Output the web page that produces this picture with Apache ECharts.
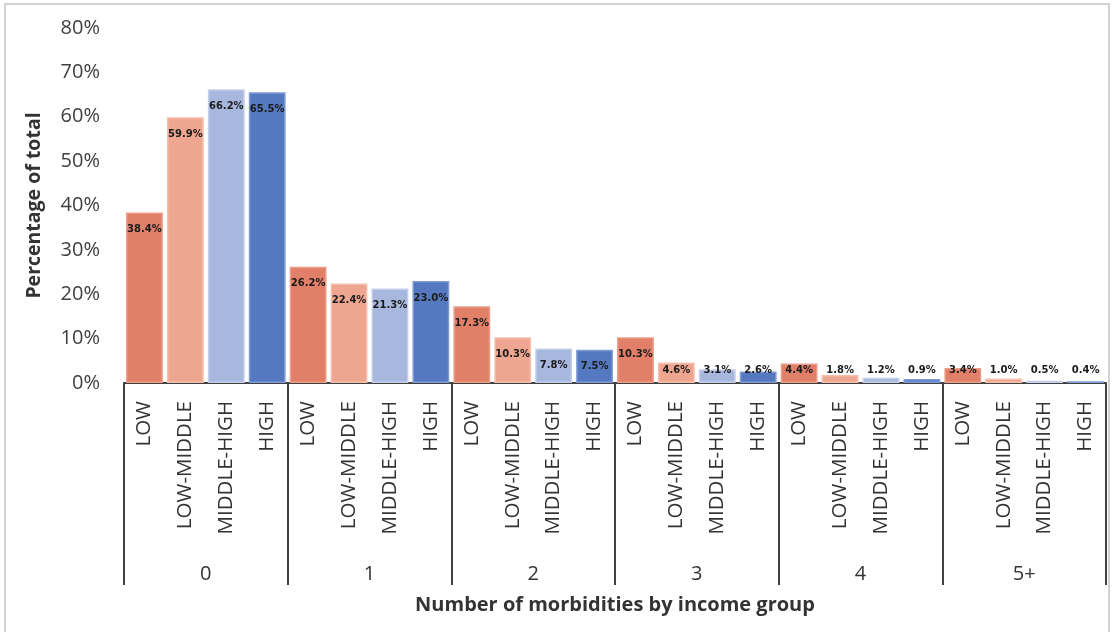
<!DOCTYPE html>
<html>
<head>
<meta charset="utf-8">
<script src="https://cdn.jsdelivr.net/npm/echarts@6/dist/echarts.min.js"></script>
<style>
html,body{margin:0;padding:0;background:#fff;}
#chart{width:1112px;height:632px;}
</style>
</head>
<body>
<div id="chart"></div>
<script>
const groups = ['0', '1', '2', '3', '4', '5+'];
const incomeGroups = ['LOW', 'LOW-MIDDLE', 'MIDDLE-HIGH', 'HIGH'];
const lowVals = [38.4, 26.2, 17.3, 10.3, 4.4, 3.4];
const lowMiddleVals = [59.9, 22.4, 10.3, 4.6, 1.8, 1.0];
const middleHighVals = [66.2, 21.3, 7.8, 3.1, 1.2, 0.5];
const highVals = [65.5, 23.0, 7.5, 2.6, 0.9, 0.4];
const yTicks = [0, 10, 20, 30, 40, 50, 60, 70, 80];

const seriesVals = [lowVals, lowMiddleVals, middleHighVals, highVals];
const fillColors = ['#E27F68', '#EEA690', '#A7B7DD', '#5579C0'];
const edgeColors = ['#EC9C88', '#F5BFAE', '#C3CFEA', '#7F9BD3'];

const categories = [];
const barData = [];
groups.forEach((g, gi) => {
  incomeGroups.forEach((ig, ii) => {
    categories.push(ig);
    const v = seriesVals[ii][gi];
    const small = v < 6.5;
    barData.push({
      value: v,
      itemStyle: { color: fillColors[ii], borderColor: edgeColors[ii], borderWidth: 1.5 },
      label: { position: small ? 'insideBottom' : 'insideTop', distance: small ? 8 : 12 }
    });
  });
});

const chart = echarts.init(document.getElementById('chart'));
chart.setOption({
  animation: false,
  backgroundColor: '#fff',
  graphic: [{
    type: 'rect',
    shape: { x: 5, y: 4, width: 1104, height: 660 },
    style: { fill: 'none', stroke: '#c4c4c4', lineWidth: 1.5 },
    silent: true
  }],
  grid: { left: 124, right: 6, top: 28, bottom: 249, containLabel: false },
  xAxis: [{
    type: 'category',
    data: categories,
    position: 'bottom',
    axisLine: { show: true, lineStyle: { color: '#404040', width: 2 } },
    axisTick: { show: false },
    axisLabel: {
      interval: 0, rotate: 90, margin: 18,
      fontFamily: 'Open Sans', fontSize: 20.5, color: '#333'
    },
    name: 'Number of morbidities by income group',
    nameLocation: 'middle',
    nameGap: 212,
    nameTextStyle: { fontFamily: 'Open Sans', fontSize: 20, fontWeight: 'bold', color: '#333' }
  }, {
    type: 'category',
    data: groups,
    position: 'bottom',
    axisLine: { show: false },
    axisTick: { show: true, length: 202, lineStyle: { color: '#404040', width: 2 } },
    axisLabel: { interval: 0, margin: 181, fontFamily: 'Open Sans', fontSize: 20, color: '#333' }
  }],
  yAxis: {
    type: 'value',
    min: yTicks[0], max: yTicks[yTicks.length - 1], interval: 10,
    axisLine: { show: false },
    axisTick: { show: false },
    splitLine: { show: false },
    axisLabel: { formatter: '{value}%', margin: 24, fontFamily: 'Open Sans', fontSize: 20, color: '#404040' },
    name: 'Percentage of total',
    nameLocation: 'middle',
    nameGap: 80,
    nameTextStyle: { fontFamily: 'Open Sans', fontSize: 19.5, fontWeight: 'bold', color: '#333' }
  },
  series: [{
    type: 'bar',
    xAxisIndex: 0,
    data: barData,
    barCategoryGap: '10%',
    label: {
      show: true,
      formatter: p => p.value.toFixed(1) + '%',
      fontFamily: 'DejaVu Sans', fontSize: 10, fontWeight: 'bold', color: '#1a1a1a'
    }
  }]
});
</script>
</body>
</html>
